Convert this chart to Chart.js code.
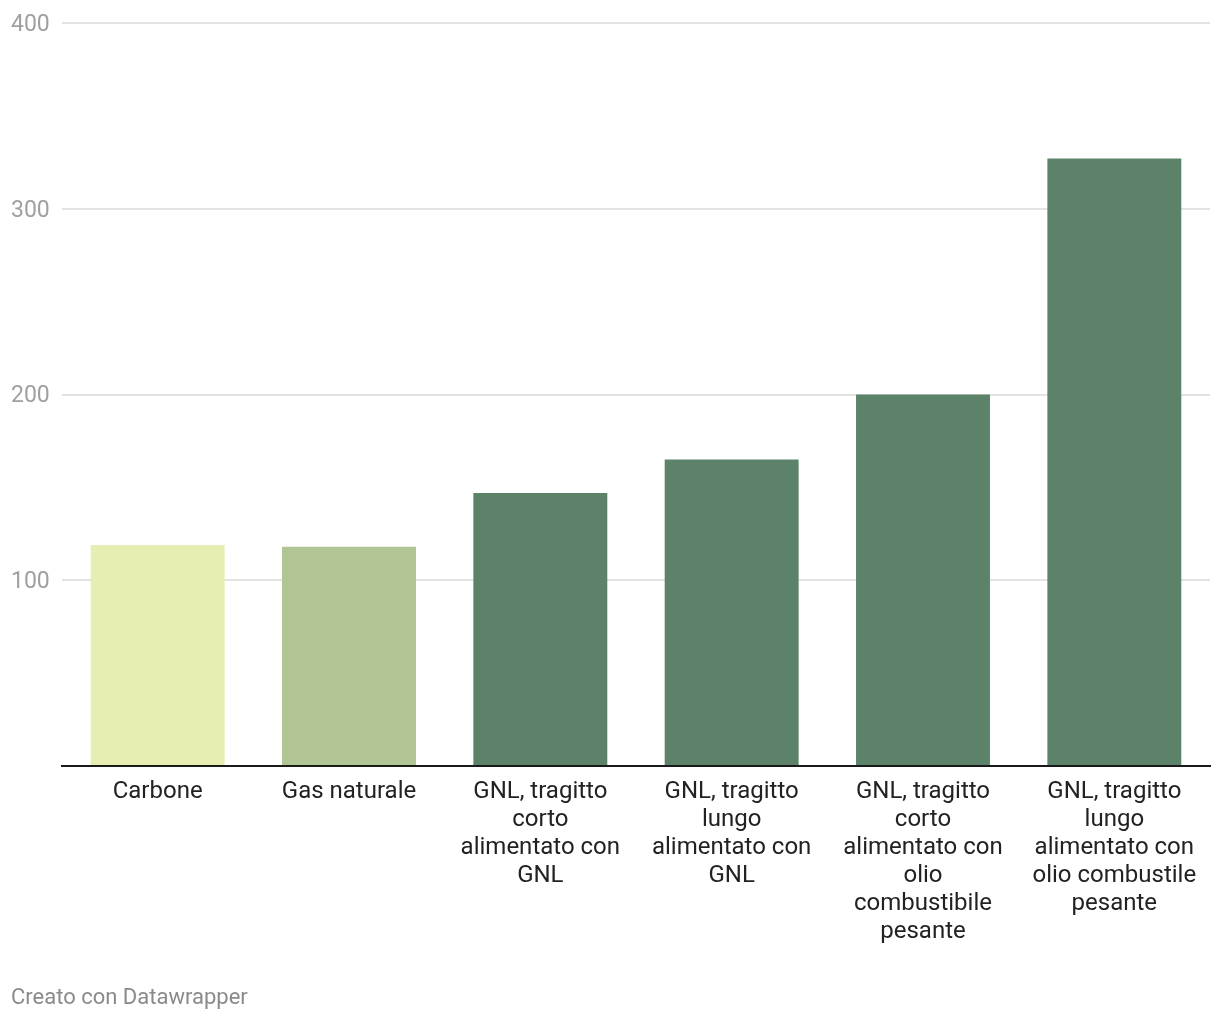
<!DOCTYPE html>
<html>
<head>
<meta charset="utf-8">
<script src="https://cdn.jsdelivr.net/npm/chart.js@4"></script>
<style>
    html, body { margin: 0; padding: 0; background: #fff; }
    #wrap { position: relative; width: 1220px; height: 1020px; }
    #footer {
        position: absolute; left: 11px; top: 984px;
        font-family: Roboto, sans-serif; font-size: 22px; color: #8a8a8a;
    }
</style>
</head>
<body>
<div id="wrap">
    <canvas id="barChart" width="1220" height="1020"></canvas>
    <div id="footer">Creato con Datawrapper</div>
</div>
<script>
const categories = [
    ['Carbone'],
    ['Gas naturale'],
    ['GNL, tragitto', 'corto', 'alimentato con', 'GNL'],
    ['GNL, tragitto', 'lungo', 'alimentato con', 'GNL'],
    ['GNL, tragitto', 'corto', 'alimentato con', 'olio', 'combustibile', 'pesante'],
    ['GNL, tragitto', 'lungo', 'alimentato con', 'olio combustile', 'pesante']
];
const values = [119, 118, 147, 165, 200, 327];
const barColors = ['#e8eeb2', '#b0c494', '#5c836a', '#5c836a', '#5c836a', '#5c836a'];
const yTicks = [0, 100, 200, 300, 400];

document.addEventListener('DOMContentLoaded', function() {
    const ctx = document.getElementById('barChart').getContext('2d');
    new Chart(ctx, {
        type: 'bar',
        data: {
            labels: categories,
            datasets: [{
                data: values,
                backgroundColor: barColors,
                borderWidth: 0,
                categoryPercentage: 1,
                barPercentage: 0.7
            }]
        },
        options: {
            responsive: false,
            animation: false,
            layout: { padding: { left: 11, right: 10, top: 23, bottom: 0 } },
            plugins: {
                legend: { display: false },
                tooltip: { enabled: false }
            },
            scales: {
                x: {
                    grid: { display: false, drawTicks: false },
                    border: { display: true, color: '#1a1a1a', width: 2 },
                    ticks: {
                        color: '#222',
                        font: { family: 'Roboto', size: 24, lineHeight: 1.167 },
                        maxRotation: 0,
                        autoSkip: false,
                        padding: 12
                    },
                    afterFit: function(scale) { scale.height = 254; }
                },
                y: {
                    min: 0,
                    max: 400,
                    afterBuildTicks: function(scale) {
                        scale.ticks = yTicks.map(v => ({ value: v }));
                    },
                    grid: {
                        drawTicks: false,
                        color: ctx => ctx.tick && ctx.tick.value === 0 ? 'rgba(0,0,0,0)' : '#e3e3e3',
                        lineWidth: 2
                    },
                    border: { display: false },
                    ticks: {
                        crossAlign: 'far',
                        color: '#a0a0a0',
                        font: { family: 'Roboto', size: 23 },
                        labelOffset: 2,
                        callback: v => v === 0 ? '' : v
                    },
                    afterFit: function(scale) { scale.width = 51; }
                }
            }
        }
    });
});
</script>
</body>
</html>
